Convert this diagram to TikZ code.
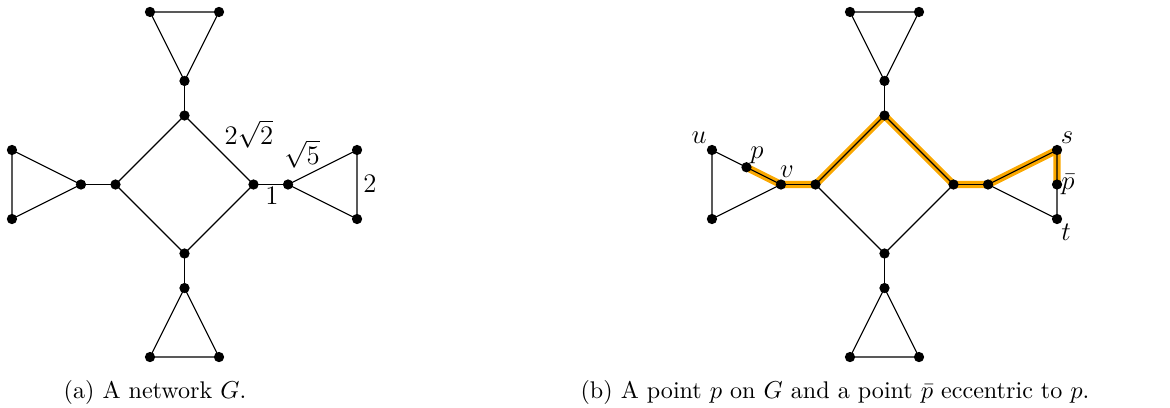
\documentclass[tikz,border=0pt]{standalone}
\usepackage{amsmath}
\definecolor{hl}{RGB}{250,168,0}
\newcommand{\netcoords}[1]{%
  \coordinate (#1t1) at (-1,5);
  \coordinate (#1t2) at (1,5);
  \coordinate (#1t3) at (0,3);
  \coordinate (#1st) at (0,2);
  \coordinate (#1sl) at (-2,0);
  \coordinate (#1sr) at (2,0);
  \coordinate (#1sb) at (0,-2);
  \coordinate (#1l0) at (-3,0);
  \coordinate (#1l1) at (-5,1);
  \coordinate (#1l2) at (-5,-1);
  \coordinate (#1r0) at (3,0);
  \coordinate (#1r1) at (5,1);
  \coordinate (#1r2) at (5,-1);
  \coordinate (#1b0) at (0,-3);
  \coordinate (#1b1) at (-1,-5);
  \coordinate (#1b2) at (1,-5);
}
\newcommand{\netedges}[1]{%
  \draw[edge] (#1t1) -- (#1t2) -- (#1t3) -- cycle;
  \draw[edge] (#1t3) -- (#1st);
  \draw[edge] (#1st) -- (#1sr) -- (#1sb) -- (#1sl) -- cycle;
  \draw[edge] (#1sl) -- (#1l0);
  \draw[edge] (#1l0) -- (#1l1) -- (#1l2) -- cycle;
  \draw[edge] (#1sr) -- (#1r0);
  \draw[edge] (#1r0) -- (#1r1) -- (#1r2) -- cycle;
  \draw[edge] (#1sb) -- (#1b0);
  \draw[edge] (#1b0) -- (#1b1) -- (#1b2) -- cycle;
}
\newcommand{\netdots}[1]{%
  \foreach \n in {t1,t2,t3,st,sl,sr,sb,l0,l1,l2,r0,r1,r2,b0,b1,b2}
    \node[dot] (#1d\n) at (#1\n) {};
}
\begin{document}
\begin{tikzpicture}[x=0.448pt,y=-0.448pt,
  dot/.style={circle,fill=black,inner sep=0pt,minimum size=4.6pt},
  edge/.style={draw=black,line width=0.5pt},
  hlpath/.style={draw=hl,line width=3.3pt,line join=round,line cap=round},
  lbl/.style={inner sep=0pt,font=\fontsize{11.5}{14}\selectfont},
  captext/.style={anchor=base,inner sep=0pt,font=\fontsize{10.8}{13}\selectfont}]
\useasboundingbox (0,0) rectangle (1170,408);

% (a)
\begin{scope}[shift={(184.5,184.5)},x=15.46pt,y=15.46pt]
  \netcoords{a}
  \netedges{a}
  \netdots{a}
\end{scope}
\node[lbl] (la1) at (249,134) {$2\sqrt{2}$};
\node[lbl] (la2) at (302,154) {$\sqrt{5}$};
\node[lbl] (la3) at (272,196) {$1$};
\node[lbl] (la4) at (370,184) {$2$};

% (b)
\begin{scope}[shift={(884.5,184.5)},x=15.46pt,y=15.46pt]
  \netcoords{b}
  \coordinate (bp) at (-4,0.5);
  \coordinate (bpb) at (5,0);
  \draw[hlpath] (bp) -- (bl0) -- (bsl) -- (bst) -- (bsr) -- (br0) -- (br1) -- (bpb);
  \netedges{b}
  \netdots{b}
  \node[dot] (bdp) at (bp) {};
  \node[dot] (bdpb) at (bpb) {};
\end{scope}
\node[lbl] (lu) at (699,138) {$u$};
\node[lbl] (lp) at (757,155) {$p$};
\node[lbl] (lv) at (787,172) {$v$};
\node[lbl] (ls) at (1067,138) {$s$};
\node[lbl] (lpb) at (1068,185) {$\bar{p}$};
\node[lbl] (lt) at (1066,232) {$t$};

% captions
\node[captext] (capa) at (155,398) {(a) A network $G$.};
\node[captext] (capb) at (835,398) {(b) A point $p$ on $G$ and a point $\bar{p}$ eccentric to $p$.};
\end{tikzpicture}
\end{document}
